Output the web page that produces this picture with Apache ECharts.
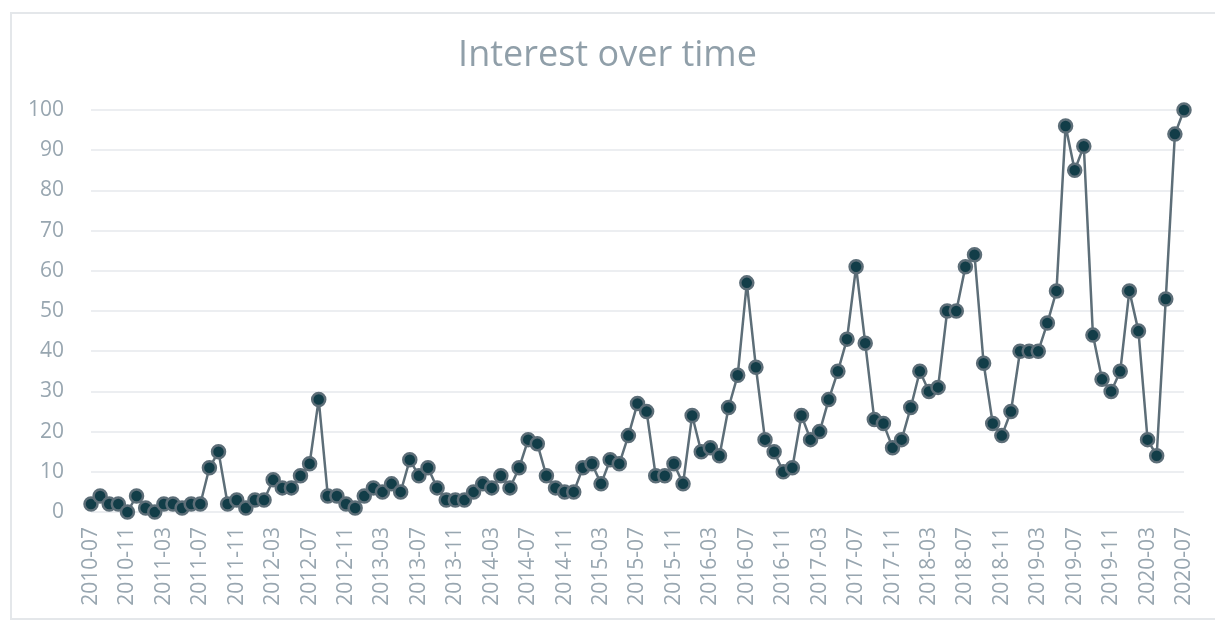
<!DOCTYPE html>
<html>
<head>
<meta charset="utf-8">
<title>Interest over time</title>
<script src="https://cdn.jsdelivr.net/npm/echarts@6/dist/echarts.min.js"></script>
<style>
  html, body { margin: 0; padding: 0; background: #fff; }
  .frame {
    position: absolute; left: 10px; top: 12px;
    width: 1220px; height: 608px;
    border: 2px solid #e4e7ea; box-sizing: border-box;
  }
  #chart { position: absolute; left: 0; top: 0; width: 1215px; height: 623px; }
</style>
</head>
<body>
<div class="frame"></div>
<div id="chart"></div>
<script>
// 月份标签 2010-07 .. 2020-07
const months = []
for (let y = 2010; y <= 2020; y++) {
  for (let m = 1; m <= 12; m++) {
    if ((y === 2010 && m < 7) || (y === 2020 && m > 7)) continue
    months.push(y + '-' + (m < 10 ? '0' + m : m))
  }
}

// 每月的搜索热度
const interest = [
  2, 4, 2, 2, 0, 4, 1, 0, 2, 2, 1, 2,
  2, 11, 15, 2, 3, 1, 3, 3, 8, 6, 6, 9,
  12, 28, 4, 4, 2, 1, 4, 6, 5, 7, 5, 13,
  9, 11, 6, 3, 3, 3, 5, 7, 6, 9, 6, 11,
  18, 17, 9, 6, 5, 5, 11, 12, 7, 13, 12, 19,
  27, 25, 9, 9, 12, 7, 24, 15, 16, 14, 26, 34,
  57, 36, 18, 15, 10, 11, 24, 18, 20, 28, 35, 43,
  61, 42, 23, 22, 16, 18, 26, 35, 30, 31, 50, 50,
  61, 64, 37, 22, 19, 25, 40, 40, 40, 47, 55, 96,
  85, 91, 44, 33, 30, 35, 55, 45, 18, 14, 53, 94,
  100
]

const yTicks = [0, 10, 20, 30, 40, 50, 60, 70, 80, 90, 100]

const fontFamily = '"Open Sans", Lato, sans-serif'
const labelColor = '#98a6b0'

const chart = echarts.init(document.getElementById('chart'))
chart.setOption({
  animation: false,
  title: {
    text: 'Interest over time',
    left: 'center',
    top: 33,
    textStyle: { fontFamily, fontSize: 36, fontWeight: 'normal', color: '#909fa9' }
  },
  grid: { left: 91, right: 31, top: 110, bottom: 111, containLabel: false },
  xAxis: {
    type: 'category',
    data: months,
    boundaryGap: false,
    axisLine: { show: false },
    axisTick: { show: false },
    axisLabel: {
      interval: 3,
      rotate: 90,
      margin: 15,
      fontFamily,
      fontSize: 21,
      color: labelColor
    },
    splitLine: { show: false }
  },
  yAxis: {
    type: 'value',
    min: yTicks[0],
    max: yTicks[yTicks.length - 1],
    interval: 10,
    axisLine: { show: false },
    axisTick: { show: false },
    axisLabel: { margin: 27, fontFamily, fontSize: 21, color: labelColor },
    splitLine: { lineStyle: { color: '#e6e9ec', width: 1.5 } }
  },
  series: [
    {
      type: 'line',
      data: interest,
      symbol: 'circle',
      symbolSize: 13,
      showAllSymbol: true,
      lineStyle: { color: '#5d6e78', width: 2.5 },
      itemStyle: { color: '#123d48', borderColor: '#5d6e78', borderWidth: 2.5 }
    }
  ]
})
</script>
</body>
</html>
